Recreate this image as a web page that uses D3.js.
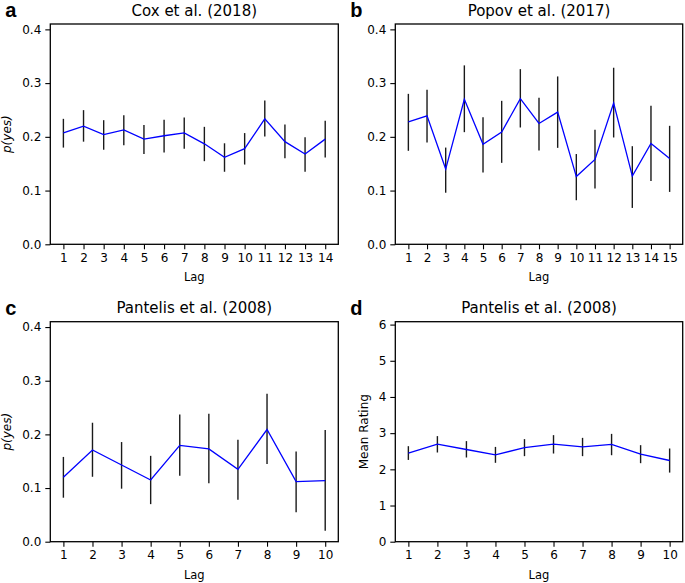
<!DOCTYPE html>
<html><head><meta charset="utf-8">
<script src="https://cdn.jsdelivr.net/npm/d3@7/dist/d3.min.js"></script>
<style>
body{margin:0;background:#fff;}
svg{display:block;font-family:"DejaVu Sans",sans-serif;}
</style></head>
<body><svg id="chart" width="685" height="583"></svg>
<script>
// ---- Data ----
const coxMean  = [0.2075,0.220,0.2043,0.213,0.1957,0.202,0.2075,0.187,0.162,0.178,0.2335,0.191,0.168,0.1957];
const coxHigh  = [0.2335,0.2497,0.231,0.240,0.222,0.232,0.236,0.2186,0.188,0.207,0.2677,0.223,0.1994,0.230];
const coxLow   = [0.180,0.191,0.176,0.1845,0.168,0.171,0.178,0.1547,0.135,0.1484,0.2006,0.160,0.135,0.1615];

const popovMean = [0.228,0.239,0.140,0.270,0.186,0.209,0.271,0.2248,0.246,0.126,0.158,0.2627,0.127,0.1876,0.1596];
const popovHigh = [0.280,0.2876,0.180,0.333,0.2366,0.267,0.326,0.2727,0.3124,0.168,0.213,0.3286,0.1826,0.2578,0.2205];
const popovLow  = [0.174,0.1894,0.096,0.2087,0.1335,0.1516,0.2174,0.1745,0.1795,0.082,0.1037,0.1988,0.0677,0.118,0.0975];

const pantMean = [0.120,0.171,0.143,0.115,0.1795,0.173,0.135,0.209,0.112,0.114];
const pantHigh = [0.158,0.2217,0.1857,0.160,0.237,0.2385,0.190,0.2758,0.168,0.208];
const pantLow  = [0.082,0.121,0.0988,0.070,0.123,0.1087,0.078,0.1447,0.055,0.0205];

const ratingMean = [2.447,2.696,2.548,2.40,2.60,2.696,2.62,2.687,2.42,2.244];
const ratingHigh = [2.64,2.918,2.78,2.62,2.835,2.945,2.87,2.98,2.668,2.576];
const ratingLow  = [2.26,2.465,2.327,2.18,2.364,2.437,2.364,2.39,2.17,1.91];

const pTicks = [0.0,0.1,0.2,0.3,0.4];
const ratingTicks = [0,1,2,3,4,5,6];

const panels = [
  {label:"a", title:"Cox et al. (2018)", mean:coxMean, hi:coxHigh, lo:coxLow, ymax:0.41, ticks:pTicks, fmt:d3.format(".1f"), ylab:"p(yes)", italic:true,
   box:{l:50.3,r:338.3,t:24,b:244.3}},
  {label:"b", title:"Popov et al. (2017)", mean:popovMean, hi:popovHigh, lo:popovLow, ymax:0.41, ticks:pTicks, fmt:d3.format(".1f"), ylab:null,
   box:{l:395.3,r:682.7,t:24,b:244.3}},
  {label:"c", title:"Pantelis et al. (2008)", mean:pantMean, hi:pantHigh, lo:pantLow, ymax:0.41, ticks:pTicks, fmt:d3.format(".1f"), ylab:"p(yes)", italic:true,
   box:{l:50.3,r:338.3,t:321.7,b:541.7}},
  {label:"d", title:"Pantelis et al. (2008)", mean:ratingMean, hi:ratingHigh, lo:ratingLow, ymax:6.08, ticks:ratingTicks, fmt:d3.format("d"), ylab:"Mean Rating", italic:false,
   box:{l:395.3,r:682.7,t:321.7,b:541.7}}
];

const svg = d3.select("#chart");

panels.forEach(p => {
  const n = p.mean.length;
  const lags = d3.range(1, n+1);
  const pad = 0.05*(n-1);
  const x = d3.scaleLinear().domain([1-pad, n+pad]).range([p.box.l, p.box.r]);
  const y = d3.scaleLinear().domain([0, p.ymax]).range([p.box.b, p.box.t]);
  const g = svg.append("g");

  // axes
  const xa = g.append("g").attr("transform",`translate(0,${p.box.b})`)
    .call(d3.axisBottom(x).tickValues(lags).tickFormat(d3.format("d")).tickSize(5).tickPadding(4));
  const ya = g.append("g").attr("transform",`translate(${p.box.l},0)`)
    .call(d3.axisLeft(y).tickValues(p.ticks).tickFormat(p.fmt).tickSize(5).tickPadding(4));
  [xa,ya].forEach(a=>{
    a.select(".domain").remove();
    a.selectAll(".tick line").attr("stroke","#000").attr("stroke-width",1.1);
    a.selectAll(".tick text").attr("fill","#000").style("font-size","12px").style("font-family","'DejaVu Sans',sans-serif");
  });

  // error bars
  g.selectAll("line.err").data(lags).enter().append("line")
    .attr("x1",d=>x(d)).attr("x2",d=>x(d))
    .attr("y1",(d,i)=>y(p.lo[i])).attr("y2",(d,i)=>y(p.hi[i]))
    .attr("stroke","#1a1a1a").attr("stroke-width",1.4);

  // mean line
  const line = d3.line().x((d,i)=>x(lags[i])).y(d=>y(d));
  g.append("path").datum(p.mean).attr("d",line)
    .attr("fill","none").attr("stroke","#0000ff").attr("stroke-width",1.3);

  // frame
  g.append("rect").attr("x",p.box.l).attr("y",p.box.t)
    .attr("width",p.box.r-p.box.l).attr("height",p.box.b-p.box.t)
    .attr("fill","none").attr("stroke","#000").attr("stroke-width",1.3);

  // title
  g.append("text").attr("x",(p.box.l+p.box.r)/2).attr("y",p.box.t-8.5)
    .attr("text-anchor","middle").style("font-size","15px").text(p.title);

  // panel label
  g.append("text").attr("x",p.box.l-45).attr("y",p.box.t-7)
    .style("font-family","'Liberation Sans',Arial,sans-serif").style("font-weight","bold")
    .style("font-size","20px").text(p.label);

  // x label
  g.append("text").attr("x",(p.box.l+p.box.r)/2).attr("y",p.box.b+37)
    .attr("text-anchor","middle").style("font-size","11.5px").text("Lag");

  // y label
  if (p.ylab) {
    const cy = (p.box.t+p.box.b)/2;
    const lx = p.box.l - (p.ylab==="Mean Rating" ? 27.5 : 39);
    g.append("text").attr("transform",`translate(${lx},${cy}) rotate(-90)`)
      .attr("text-anchor","middle").style("font-size","12px")
      .style("font-style",p.italic?"italic":"normal").text(p.ylab);
  }
});
</script></body></html>
